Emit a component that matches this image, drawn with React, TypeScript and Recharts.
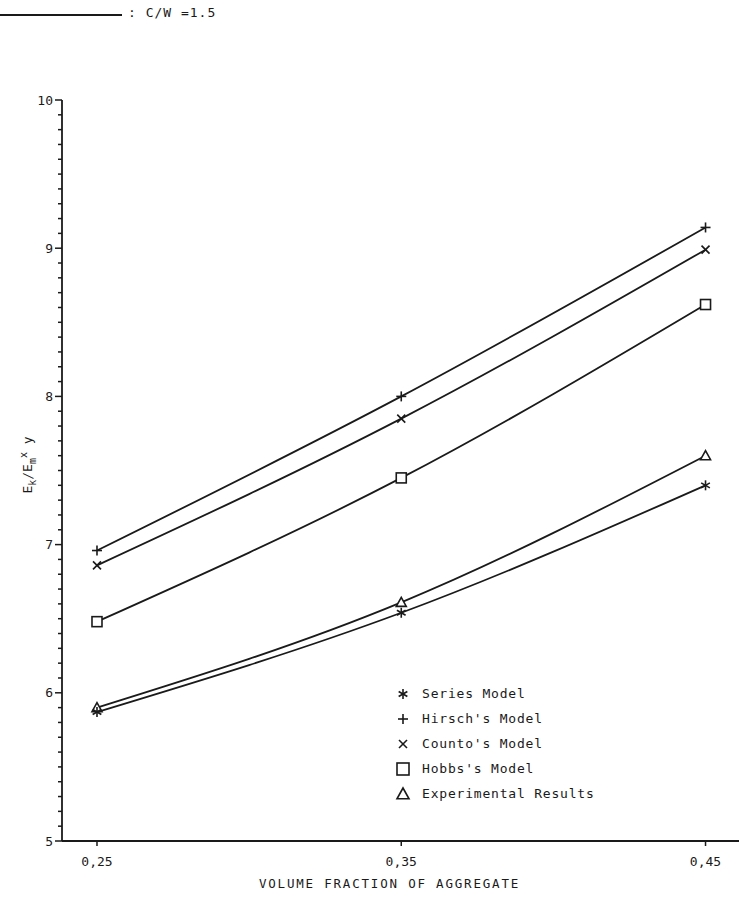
import React from "react";
import { LineChart, Line, XAxis, YAxis } from "recharts";

const volumeFraction = [0.25, 0.35, 0.45];
const seriesModel = [5.87, 6.54, 7.4];
const hirschModel = [6.96, 8.0, 9.14];
const countoModel = [6.86, 7.85, 8.99];
const hobbsModel = [6.48, 7.45, 8.62];
const experimentalResults = [5.9, 6.61, 7.6];

const xTicks = [0.25, 0.35, 0.45];
const yMajorTicks = [5, 6, 7, 8, 9, 10];
// ten minor divisions per unit on the y axis
const yTicks = Array.from({ length: 51 }, (_, i) => Math.round((5 + i * 0.1) * 10) / 10);

const legendLabels = [
  { key: "series", label: "Series Model" },
  { key: "hirsch", label: "Hirsch's Model" },
  { key: "counto", label: "Counto's Model" },
  { key: "hobbs", label: "Hobbs's Model" },
  { key: "experimental", label: "Experimental Results" },
];

const chartData = volumeFraction.map((x, i) => ({
  x,
  series: seriesModel[i],
  hirsch: hirschModel[i],
  counto: countoModel[i],
  hobbs: hobbsModel[i],
  experimental: experimentalResults[i],
}));

const INK = "#1a1a1a";
const FONT = "'DejaVu Sans Mono', monospace";

const Marker = ({ kind, cx, cy, big }: { kind: string; cx: number; cy: number; big?: boolean }) => {
  const r = big ? 6 : 5;
  const sw = 1.6;
  if (kind === "series") {
    const a = r * 0.87;
    const b = r * 0.5;
    return (
      <g stroke={INK} strokeWidth={sw}>
        <line x1={cx} y1={cy - r} x2={cx} y2={cy + r} />
        <line x1={cx - a} y1={cy - b} x2={cx + a} y2={cy + b} />
        <line x1={cx - a} y1={cy + b} x2={cx + a} y2={cy - b} />
      </g>
    );
  }
  if (kind === "hirsch") {
    return (
      <g stroke={INK} strokeWidth={sw}>
        <line x1={cx - r} y1={cy} x2={cx + r} y2={cy} />
        <line x1={cx} y1={cy - r} x2={cx} y2={cy + r} />
      </g>
    );
  }
  if (kind === "counto") {
    const d = r * 0.8;
    return (
      <g stroke={INK} strokeWidth={sw}>
        <line x1={cx - d} y1={cy - d} x2={cx + d} y2={cy + d} />
        <line x1={cx - d} y1={cy + d} x2={cx + d} y2={cy - d} />
      </g>
    );
  }
  if (kind === "hobbs") {
    return <rect x={cx - r} y={cy - r} width={r * 2} height={r * 2} fill="#fff" stroke={INK} strokeWidth={sw} />;
  }
  return (
    <polygon
      points={`${cx},${cy - r} ${cx - r},${cy + r * 0.8} ${cx + r},${cy + r * 0.8}`}
      fill="#fff"
      stroke={INK}
      strokeWidth={sw}
    />
  );
};

const makeDot = (kind: string) => (props: any) => (
  <Marker key={`${kind}-${props.index}`} kind={kind} cx={props.cx} cy={props.cy} />
);

const YTick = (props: any) => {
  const { x, y, payload } = props;
  const v = payload.value;
  const major = yMajorTicks.includes(v);
  return (
    <g>
      <line x1={x - (major ? 7 : 4)} x2={x} y1={y} y2={y} stroke={INK} strokeWidth={1.5} />
      {major && (
        <text x={x - 9} y={y} dy={4.5} textAnchor="end" fontSize={13} fontFamily={FONT} fill={INK}>
          {v}
        </text>
      )}
    </g>
  );
};

const XTick = (props: any) => {
  const { x, y, payload } = props;
  return (
    <g>
      <line x1={x} x2={x} y1={y} y2={y + 5} stroke={INK} strokeWidth={1.5} />
      <text x={x} y={y + 25} textAnchor="middle" fontSize={13} fontFamily={FONT} fill={INK}>
        {payload.value.toFixed(2).replace(".", ",")}
      </text>
    </g>
  );
};

const App: React.FC = () => {
  return (
    <div style={{ position: "absolute", left: 0, top: 0, width: 739, height: 910, background: "#fff" }}>
      <div style={{ position: "absolute", left: 0, top: 14, width: 122, borderTop: `2px solid ${INK}` }} />
      <div
        style={{ position: "absolute", left: 128, top: 5, fontFamily: FONT, fontSize: 13, color: INK, letterSpacing: 1 }}
      >
        : C/W =1.5
      </div>

      <LineChart width={739} height={910} data={chartData} margin={{ top: 100, right: 0, left: 22, bottom: 39 }}>
        <XAxis
          type="number"
          dataKey="x"
          domain={[0.2385, 0.461]}
          ticks={xTicks}
          interval={0}
          height={30}
          tickSize={0}
          tickMargin={0}
          tick={<XTick />}
          axisLine={{ stroke: INK, strokeWidth: 1.8 }}
          tickLine={false}
          allowDataOverflow
        />
        <YAxis
          type="number"
          domain={[5, 10]}
          ticks={yTicks}
          interval={0}
          width={40}
          tickSize={0}
          tickMargin={0}
          tick={<YTick />}
          axisLine={{ stroke: INK, strokeWidth: 1.8 }}
          tickLine={false}
          allowDataOverflow
        />
        <Line type="monotone" dataKey="hirsch" stroke={INK} strokeWidth={1.8} dot={makeDot("hirsch")} isAnimationActive={false} />
        <Line type="monotone" dataKey="counto" stroke={INK} strokeWidth={1.8} dot={makeDot("counto")} isAnimationActive={false} />
        <Line type="monotone" dataKey="hobbs" stroke={INK} strokeWidth={1.8} dot={makeDot("hobbs")} isAnimationActive={false} />
        <Line type="monotone" dataKey="experimental" stroke={INK} strokeWidth={1.8} dot={makeDot("experimental")} isAnimationActive={false} />
        <Line type="monotone" dataKey="series" stroke={INK} strokeWidth={1.8} dot={makeDot("series")} isAnimationActive={false} />
      </LineChart>

      <div
        style={{
          position: "absolute",
          left: 28,
          top: 465,
          transform: "translate(-50%, -50%) rotate(-90deg)",
          fontFamily: FONT,
          fontSize: 13,
          color: INK,
          whiteSpace: "nowrap",
        }}
      >
        E<sub style={{ fontSize: 10 }}>k</sub>/E<sub style={{ fontSize: 10 }}>m</sub>
        <sup style={{ fontSize: 10 }}>x</sup> y
      </div>

      <div
        style={{
          position: "absolute",
          left: 0,
          width: 739,
          top: 876,
          textAlign: "center",
          paddingLeft: 40,
          boxSizing: "border-box",
          fontFamily: FONT,
          fontSize: 12.5,
          letterSpacing: 1.8,
          color: INK,
        }}
      >
        VOLUME FRACTION OF AGGREGATE
      </div>

      <div style={{ position: "absolute", left: 394, top: 681, fontFamily: FONT, fontSize: 13, color: INK }}>
        {legendLabels.map((item) => (
          <div key={item.key} style={{ display: "flex", alignItems: "center", height: 25 }}>
            <svg width={18} height={18} style={{ marginRight: 10 }}>
              <Marker kind={item.key} cx={9} cy={9} big={item.key === "hobbs" || item.key === "experimental"} />
            </svg>
            <span style={{ letterSpacing: 0.8 }}>{item.label}</span>
          </div>
        ))}
      </div>
    </div>
  );
};

export default App;
